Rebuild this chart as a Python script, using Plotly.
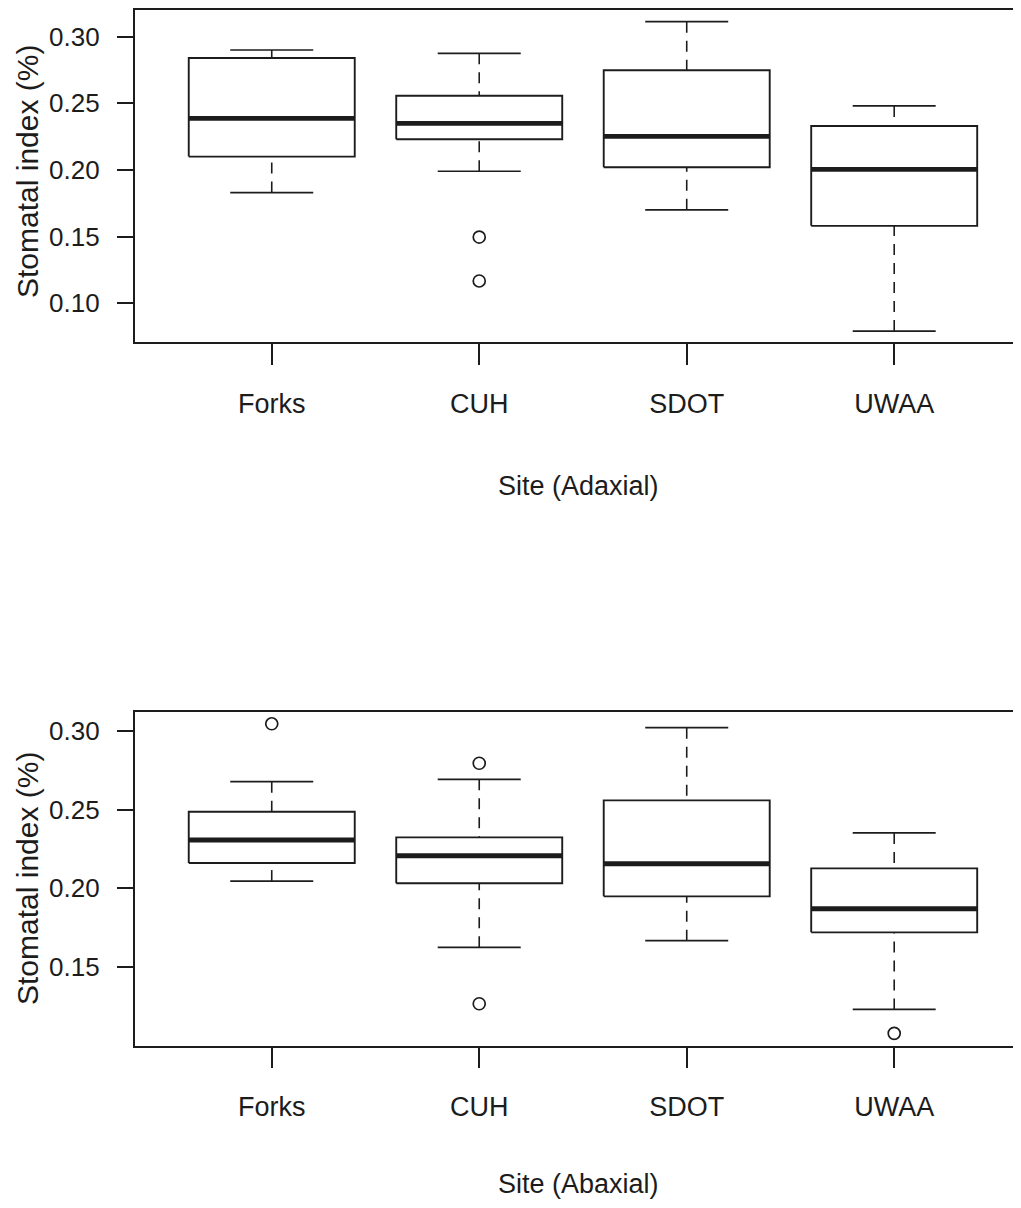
import plotly.graph_objects as go

# ---------------- data ----------------
sites = ["Forks", "CUH", "SDOT", "UWAA"]

# Adaxial (top panel)
ad_low = [0.183, 0.199, 0.170, 0.079]
ad_q1 = [0.210, 0.223, 0.202, 0.158]
ad_med = [0.2387, 0.2350, 0.2252, 0.2004]
ad_q3 = [0.284, 0.2557, 0.2748, 0.233]
ad_high = [0.290, 0.2875, 0.3113, 0.248]
ad_out_site = ["CUH", "CUH"]
ad_out_val = [0.1496, 0.1166]

# Abaxial (bottom panel)
ab_low = [0.2046, 0.1625, 0.1667, 0.1230]
ab_q1 = [0.2161, 0.2032, 0.1949, 0.1720]
ab_med = [0.2307, 0.2207, 0.2156, 0.1870]
ab_q3 = [0.2487, 0.2324, 0.2559, 0.2127]
ab_high = [0.2678, 0.2693, 0.3021, 0.2352]
ab_out_site = ["Forks", "CUH", "CUH", "UWAA"]
ab_out_val = [0.3046, 0.2795, 0.1266, 0.1078]

top_ticks = [0.10, 0.15, 0.20, 0.25, 0.30]
bot_ticks = [0.15, 0.20, 0.25, 0.30]
tick_text_top = ["0.10", "0.15", "0.20", "0.25", "0.30"]
tick_text_bot = ["0.15", "0.20", "0.25", "0.30"]

y_title = "Stomatal index (%)"
x_title_top = "Site (Adaxial)"
x_title_bot = "Site (Abaxial)"

# ---------------- styling / layout ----------------
PAGE_W, PAGE_H = 1021, 1208
OFF = 8                      # default body margin of the html page
W, H = PAGE_W - OFF, PAGE_H - OFF
INK = "#1c1c1c"
FONT = "Liberation Sans, Arial, sans-serif"
HALF_BOX = 0.4      # R boxwex 0.8
HALF_CAP = 0.2      # R staplewex 0.5

fig = go.Figure()


def add_panel(low, q1, med, q3, high, out_site, out_val, xa, ya):
    pos = {s: i + 1 for i, s in enumerate(sites)}
    bx, by, wx, wy, cx, cy, mx, my = [], [], [], [], [], [], [], []
    for i, s in enumerate(sites):
        p = pos[s]
        bx += [p - HALF_BOX, p + HALF_BOX, p + HALF_BOX, p - HALF_BOX, p - HALF_BOX, None]
        by += [q1[i], q1[i], q3[i], q3[i], q1[i], None]
        wx += [p, p, None, p, p, None]
        wy += [low[i], q1[i], None, high[i], q3[i], None]
        cx += [p - HALF_CAP, p + HALF_CAP, None, p - HALF_CAP, p + HALF_CAP, None]
        cy += [low[i], low[i], None, high[i], high[i], None]
        mx += [p - HALF_BOX, p + HALF_BOX, None]
        my += [med[i], med[i], None]
    common = dict(mode="lines", xaxis=xa, yaxis=ya, hoverinfo="skip", showlegend=False)
    fig.add_trace(go.Scatter(x=wx, y=wy, line=dict(color=INK, width=1.6, dash="11px,8px"), **common))
    fig.add_trace(go.Scatter(x=cx, y=cy, line=dict(color=INK, width=1.7), **common))
    fig.add_trace(go.Scatter(x=bx, y=by, line=dict(color=INK, width=1.9), fill="toself",
                             fillcolor="white", **common))
    fig.add_trace(go.Scatter(x=mx, y=my, line=dict(color=INK, width=4.8), **common))
    fig.add_trace(go.Scatter(
        x=[pos[s] for s in out_site], y=out_val, mode="markers", xaxis=xa, yaxis=ya,
        marker=dict(symbol="circle-open", size=12, color=INK, line=dict(width=1.7, color=INK)),
        hoverinfo="skip", showlegend=False))


add_panel(ad_low, ad_q1, ad_med, ad_q3, ad_high, ad_out_site, ad_out_val, "x", "y")
add_panel(ab_low, ab_q1, ab_med, ab_q3, ab_high, ab_out_site, ab_out_val, "x2", "y2")


def px(xpage):
    return (xpage - OFF) / W


def pf(ypage):
    return 1 - (ypage - OFF) / H


x_left = px(134.8)
xdom = [x_left, 1.0]
xrange = [0.34, 1 + (PAGE_W - 271.7) / 207.5]

xaxis_common = dict(
    range=xrange, domain=xdom, showline=True, mirror=True, linecolor=INK, linewidth=1.9,
    showgrid=False, zeroline=False, ticks="outside", tickcolor=INK, tickwidth=1.6,
    tickvals=[1, 2, 3, 4], ticktext=sites, ticklabelstandoff=16,
    tickfont=dict(family=FONT, size=27, color=INK), fixedrange=True,
)
yaxis_common = dict(
    showline=True, mirror=False, linecolor=INK, linewidth=1.9, showgrid=False, zeroline=False,
    ticks="outside", tickcolor=INK, tickwidth=1.6, ticklen=16, ticklabelstandoff=12,
    tickfont=dict(family=FONT, size=26, color=INK), fixedrange=True,
)

fig.update_layout(
    width=W, height=H, margin=dict(l=0, r=0, t=0, b=0),
    paper_bgcolor="white", plot_bgcolor="white",
    xaxis=dict(anchor="y", ticklen=21, **xaxis_common),
    xaxis2=dict(anchor="y2", ticklen=20, **xaxis_common),
    yaxis=dict(anchor="x", domain=[pf(342), pf(10)], range=[0.07079, 0.32005],
               tickvals=top_ticks, ticktext=tick_text_top, **yaxis_common),
    yaxis2=dict(anchor="x2", domain=[pf(1045.7), pf(712.3)], range=[0.09994, 0.31189],
                tickvals=bot_ticks, ticktext=tick_text_bot, **yaxis_common),
)

ann_font = dict(family=FONT, size=27, color=INK)
x_mid = px((134.8 + 1031) / 2) - 0.004
for txt, yc in [(x_title_top, 486), (x_title_bot, 1184)]:
    fig.add_annotation(text=txt, x=x_mid, xref="paper", y=pf(yc), yref="paper",
                       showarrow=False, font=ann_font, xanchor="center", yanchor="middle")
for yc in [(10 + 342) / 2 - 4, (712.3 + 1045.7) / 2]:
    fig.add_annotation(text=y_title, x=px(27), xref="paper", y=pf(yc), yref="paper",
                       showarrow=False, textangle=-90, font=dict(family=FONT, size=30, color=INK),
                       xanchor="center", yanchor="middle")

fig.write_html("out.html", config={"displayModeBar": False})
